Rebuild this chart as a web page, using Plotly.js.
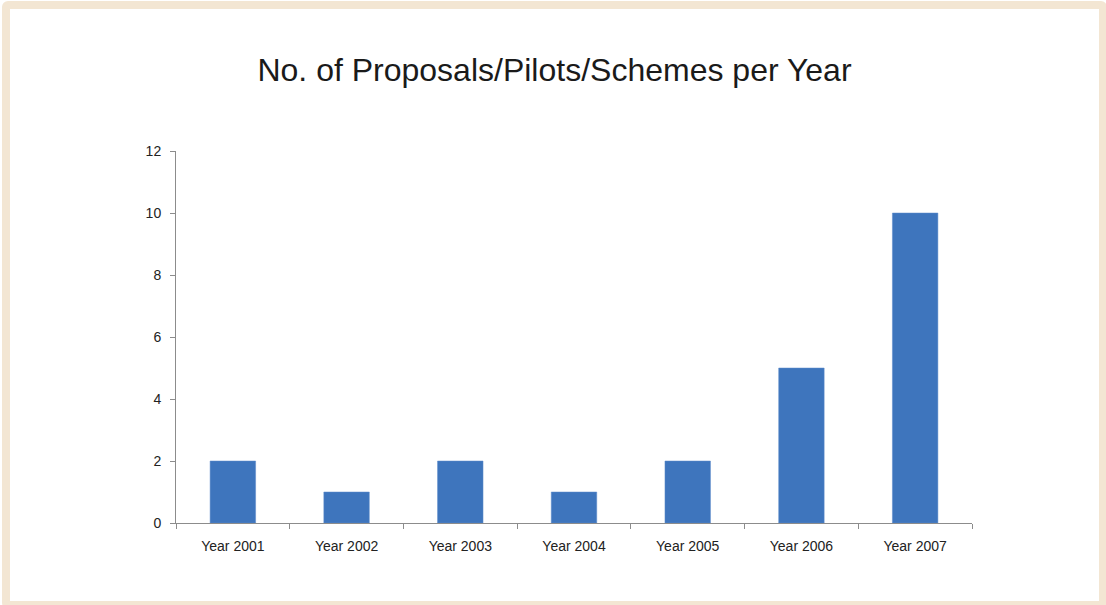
<!DOCTYPE html>
<html>
<head>
<meta charset="utf-8">
<script src="https://cdn.plot.ly/plotly-3.0.1.min.js"></script>
<style>
html,body{margin:0;padding:0;width:1106px;height:605px;overflow:hidden;background:#fff;}
#frame{position:absolute;left:2px;top:1px;width:1089px;height:592px;border:8px solid #F3E6D3;border-radius:6px;background:#fff;}
#chart{width:1089px;height:592px;}
</style>
</head>
<body>
<div id="frame"><div id="chart"></div></div>
<script>
const categories = ["Year 2001","Year 2002","Year 2003","Year 2004","Year 2005","Year 2006","Year 2007"];
const values = [2,1,2,1,2,5,10];
const yTicks = [0,2,4,6,8,10,12];
const chartTitle = "No. of Proposals/Pilots/Schemes per Year";

const axisColor = "#8c8c8c";
Plotly.newPlot("chart", [{
  type: "bar",
  x: categories,
  y: values,
  marker: {color: "#3E75BD", line: {color: "#5C8ACB", width: 0.5}},
  hoverinfo: "x+y"
}], {
  width: 1089, height: 592,
  margin: {l: 166, r: 127, t: 142, b: 78},
  paper_bgcolor: "#fff", plot_bgcolor: "#fff",
  bargap: 0.6,
  showlegend: false,
  font: {family: "Liberation Sans, Arial, sans-serif", color: "#222", size: 14},
  title: {text: chartTitle, font: {size: 32, color: "#1a1a1a"}, x: 0.5, xanchor: "center", y: 1 - 61/592, yanchor: "middle"},
  xaxis: {
    type: "category", range: [-0.5, 6.5], showgrid: false, zeroline: false,
    showline: true, linecolor: axisColor, linewidth: 1,
    ticks: "outside", tickson: "boundaries", ticklen: 5, tickcolor: axisColor,
    ticklabelstandoff: 10,
    tickfont: {size: 14, color: "#222"}
  },
  yaxis: {
    range: [0, 12], tickvals: yTicks, showgrid: false, zeroline: false,
    showline: true, linecolor: axisColor, linewidth: 1,
    ticks: "outside", ticklen: 5, tickcolor: axisColor,
    ticklabelstandoff: 6,
    tickfont: {size: 14, color: "#222"}
  }
}, {displayModeBar: false, staticPlot: true});
</script>
</body>
</html>
